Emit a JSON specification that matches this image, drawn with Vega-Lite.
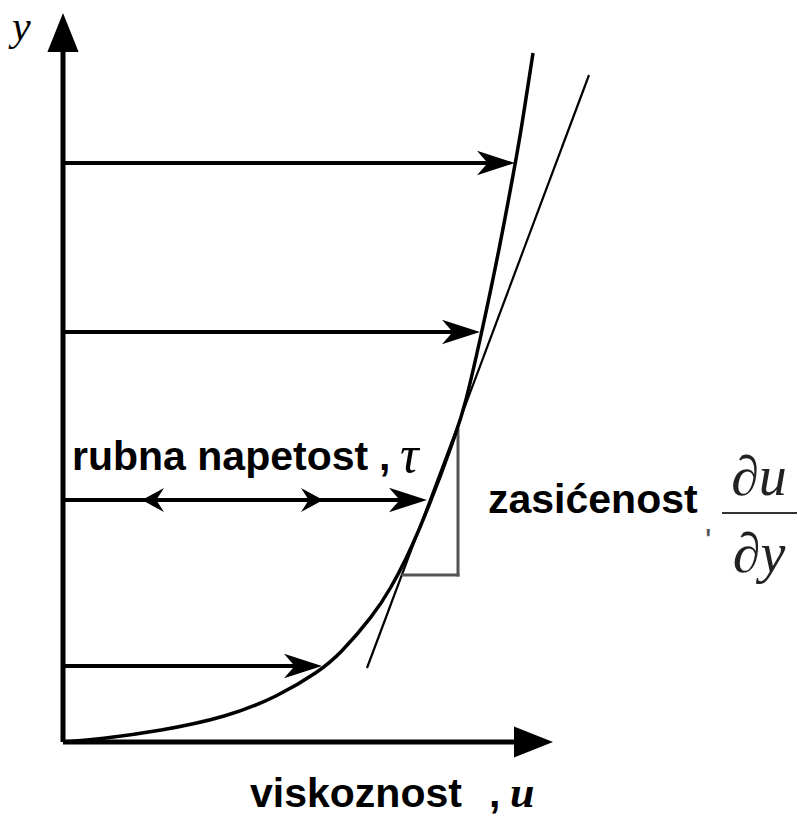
{
  "$schema": "https://vega.github.io/schema/vega-lite/v6.json",
  "width": 798,
  "height": 816,
  "autosize": {"type": "none"},
  "padding": 0,
  "background": "white",
  "config": {"view": {"stroke": null}},
  "datasets": {
    "segs": [
      {"kind": "axis", "u": 0, "y": 0, "u2": 0, "y2": 697},
      {"kind": "axis", "u": 0, "y": 0, "u2": 457, "y2": 0},
      {"kind": "arrow", "u": 0, "y": 579, "u2": 442, "y2": 579},
      {"kind": "arrow", "u": 0, "y": 410, "u2": 407, "y2": 410},
      {"kind": "arrow", "u": 0, "y": 242, "u2": 357, "y2": 242},
      {"kind": "arrow", "u": 0, "y": 76, "u2": 249, "y2": 76},
      {"kind": "tangent", "u": 304, "y": 74, "u2": 526, "y2": 667},
      {"kind": "triangle", "u": 395, "y": 312, "u2": 395, "y2": 167},
      {"kind": "triangle", "u": 395, "y": 167, "u2": 340, "y2": 167},
      {"kind": "frac", "u": 659, "y": 229, "u2": 734, "y2": 229}
    ],
    "curve": [
      {"u": 0, "y": 0}, {"u": 37, "y": 3}, {"u": 97, "y": 11}, {"u": 164, "y": 25},
      {"u": 214, "y": 45}, {"u": 257, "y": 71}, {"u": 277, "y": 88}, {"u": 310, "y": 126},
      {"u": 328, "y": 154}, {"u": 344, "y": 185}, {"u": 356, "y": 212}, {"u": 367, "y": 239},
      {"u": 380, "y": 273}, {"u": 392, "y": 306}, {"u": 402, "y": 336}, {"u": 418, "y": 406},
      {"u": 436, "y": 491}, {"u": 452, "y": 577}, {"u": 458, "y": 611}, {"u": 470, "y": 689}
    ],
    "heads": [
      {"type": "big", "dir": "right", "u": 452, "y": 579},
      {"type": "big", "dir": "right", "u": 417, "y": 410},
      {"type": "big", "dir": "right", "u": 364, "y": 242},
      {"type": "big", "dir": "right", "u": 259, "y": 76},
      {"type": "small", "dir": "left", "u": 79, "y": 242},
      {"type": "small", "dir": "right", "u": 260, "y": 242},
      {"type": "axis", "dir": "up", "u": 0, "y": 729},
      {"type": "axis", "dir": "right", "u": 490, "y": 0}
    ],
    "labels": [
      {"role": "sansb", "text": "rubna napetost", "u": 9, "y": 272},
      {"role": "sansb", "text": ",", "u": 316, "y": 272},
      {"role": "sansb", "text": "zasićenost", "u": 425, "y": 229},
      {"role": "sansb", "text": "viskoznost", "u": 187, "y": -65},
      {"role": "sansb", "text": ",", "u": 426, "y": -65},
      {"role": "ital", "text": "y", "u": -51, "y": 702},
      {"role": "tau", "text": "τ", "u": 337, "y": 270},
      {"role": "bolditalic", "text": "u", "u": 447, "y": -65},
      {"role": "frac", "text": "∂u", "u": 696, "y": 247},
      {"role": "frac", "text": "∂y", "u": 696, "y": 170},
      {"role": "tick", "text": "'", "u": 642, "y": 190}
    ]
  },
  "encoding": {
    "x": {"field": "u", "type": "quantitative", "scale": {"domain": [-63, 735], "nice": false, "zero": false}, "axis": null},
    "y": {"field": "y", "type": "quantitative", "scale": {"domain": [-74, 742], "nice": false, "zero": false}, "axis": null}
  },
  "layer": [
    {
      "data": {"name": "segs"},
      "transform": [{"filter": "datum.kind === 'axis'"}],
      "mark": {"type": "rule", "strokeWidth": 5, "color": "black", "strokeCap": "butt"},
      "encoding": {"x2": {"field": "u2"}, "y2": {"field": "y2"}}
    },
    {
      "data": {"name": "segs"},
      "transform": [{"filter": "datum.kind === 'arrow'"}],
      "mark": {"type": "rule", "strokeWidth": 4, "color": "black", "strokeCap": "butt"},
      "encoding": {"x2": {"field": "u2"}, "y2": {"field": "y2"}}
    },
    {
      "data": {"name": "segs"},
      "transform": [{"filter": "datum.kind === 'tangent'"}],
      "mark": {"type": "rule", "strokeWidth": 2.2, "color": "black"},
      "encoding": {"x2": {"field": "u2"}, "y2": {"field": "y2"}}
    },
    {
      "data": {"name": "segs"},
      "transform": [{"filter": "datum.kind === 'triangle'"}],
      "mark": {"type": "rule", "strokeWidth": 3, "color": "#555555", "strokeCap": "square"},
      "encoding": {"x2": {"field": "u2"}, "y2": {"field": "y2"}}
    },
    {
      "data": {"name": "segs"},
      "transform": [{"filter": "datum.kind === 'frac'"}],
      "mark": {"type": "rule", "strokeWidth": 2, "color": "#333333"},
      "encoding": {"x2": {"field": "u2"}, "y2": {"field": "y2"}}
    },
    {
      "data": {"name": "curve"},
      "mark": {"type": "line", "strokeWidth": 3.5, "color": "black", "interpolate": "basis"},
      "encoding": {"order": {"field": "y", "type": "quantitative"}}
    },
    {
      "data": {"name": "heads"},
      "transform": [{"filter": "datum.type === 'big'"}],
      "mark": {"type": "point", "filled": true, "color": "black", "opacity": 1, "shape": "M0,0 L-1,-0.32 L-0.72,0 L-1,0.32 Z", "size": 5776, "strokeWidth": 0, "angle": 0}
    },
    {
      "data": {"name": "heads"},
      "transform": [{"filter": "datum.type === 'small' && datum.dir === 'right'"}],
      "mark": {"type": "point", "filled": true, "color": "black", "opacity": 1, "shape": "M0,0 L-1,-0.55 L-0.65,0 L-1,0.55 Z", "size": 1936, "strokeWidth": 0, "angle": 0}
    },
    {
      "data": {"name": "heads"},
      "transform": [{"filter": "datum.type === 'small' && datum.dir === 'left'"}],
      "mark": {"type": "point", "filled": true, "color": "black", "opacity": 1, "shape": "M0,0 L-1,-0.55 L-0.65,0 L-1,0.55 Z", "size": 1936, "strokeWidth": 0, "angle": 180}
    },
    {
      "data": {"name": "heads"},
      "transform": [{"filter": "datum.type === 'axis' && datum.dir === 'right'"}],
      "mark": {"type": "point", "filled": true, "color": "black", "opacity": 1, "shape": "M0,0 L-1,-0.4 L-1,0.4 Z", "size": 6084, "strokeWidth": 0, "angle": 0}
    },
    {
      "data": {"name": "heads"},
      "transform": [{"filter": "datum.type === 'axis' && datum.dir === 'up'"}],
      "mark": {"type": "point", "filled": true, "color": "black", "opacity": 1, "shape": "M0,0 L-1,-0.4 L-1,0.4 Z", "size": 6084, "strokeWidth": 0, "angle": 270}
    },
    {
      "data": {"name": "labels"},
      "transform": [{"filter": "datum.role === 'sansb'"}],
      "mark": {"type": "text", "font": "Liberation Sans", "fontWeight": "bold", "fontSize": 41, "align": "left", "baseline": "alphabetic", "color": "black"},
      "encoding": {"text": {"field": "text"}}
    },
    {
      "data": {"name": "labels"},
      "transform": [{"filter": "datum.role === 'ital'"}],
      "mark": {"type": "text", "font": "Liberation Serif", "fontStyle": "italic", "fontSize": 42, "align": "left", "baseline": "alphabetic", "color": "black"},
      "encoding": {"text": {"field": "text"}}
    },
    {
      "data": {"name": "labels"},
      "transform": [{"filter": "datum.role === 'tau'"}],
      "mark": {"type": "text", "font": "Liberation Serif", "fontStyle": "italic", "fontSize": 52, "align": "left", "baseline": "alphabetic", "color": "black"},
      "encoding": {"text": {"field": "text"}}
    },
    {
      "data": {"name": "labels"},
      "transform": [{"filter": "datum.role === 'bolditalic'"}],
      "mark": {"type": "text", "font": "Liberation Serif", "fontStyle": "italic", "fontWeight": "bold", "fontSize": 44, "align": "left", "baseline": "alphabetic", "color": "black"},
      "encoding": {"text": {"field": "text"}}
    },
    {
      "data": {"name": "labels"},
      "transform": [{"filter": "datum.role === 'frac'"}],
      "mark": {"type": "text", "font": "Liberation Serif", "fontStyle": "italic", "fontSize": 56, "align": "center", "baseline": "alphabetic", "color": "#222222"},
      "encoding": {"text": {"field": "text"}}
    },
    {
      "data": {"name": "labels"},
      "transform": [{"filter": "datum.role === 'tick'"}],
      "mark": {"type": "text", "font": "Liberation Sans", "fontSize": 34, "align": "left", "baseline": "alphabetic", "color": "#555555"},
      "encoding": {"text": {"field": "text"}}
    }
  ]
}
